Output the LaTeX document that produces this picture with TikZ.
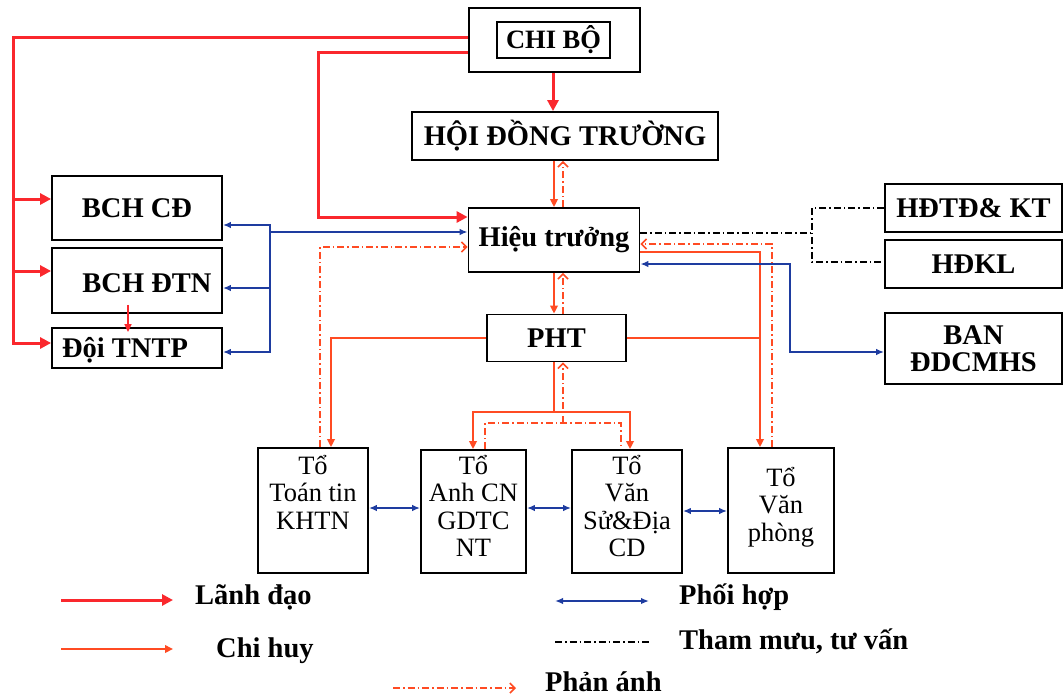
\documentclass[tikz,border=0pt]{standalone}
\usepackage{fontspec}
\setmainfont{Liberation Serif}
\usetikzlibrary{arrows.meta}
\definecolor{ldred}{RGB}{250,40,45}
\definecolor{chred}{RGB}{255,75,35}
\definecolor{pblue}{RGB}{30,60,160}
\newcommand\bfnt{\fontsize{28.5}{27}\selectfont\bfseries}
\newcommand\tfnt{\fontsize{26.5}{27.5}\selectfont}
\tikzset{
  box/.style={draw, line width=1.8pt, inner sep=0pt, font=\bfnt, align=center},
  tbox/.style={draw, line width=1.8pt, inner sep=0pt},
  ttext/.style={font=\tfnt, align=center, inner sep=0pt, anchor=north},
  btext/.style={font=\bfnt, align=center, inner sep=0pt},
  ldl/.style={draw=ldred, line width=3pt},
  ld/.style={ldl, -{Triangle[length=11pt,width=11pt]}},
  chl/.style={draw=chred, line width=2pt},
  ch/.style={chl, -{Triangle[length=8pt,width=7.5pt]}},
  pal/.style={draw=chred, line width=1.6pt, dash pattern=on 7pt off 3pt on 1.5pt off 3pt},
  pa/.style={pal, -{Straight Barb[length=5pt,width=10pt]}},
  phl/.style={draw=pblue, line width=1.6pt},
  pha/.style={phl, -{Latex[length=8pt,width=6.5pt]}},
  ph/.style={phl, {Latex[length=8pt,width=6.5pt]}-{Latex[length=8pt,width=6.5pt]}},
  tm/.style={draw=black, line width=1.4pt, dash pattern=on 7pt off 3pt on 1.5pt off 3pt},
}
\begin{document}
\begin{tikzpicture}[x=1pt,y=-1pt]
\useasboundingbox (0,0) rectangle (1064,698);
\fill[white] (0,0) rectangle (1064,698);

% ---- boxes ----
\node[tbox, minimum width=171pt, minimum height=64pt] (chibo) at (554.5,40) {};
\node[box, minimum width=113pt, minimum height=36pt, font=\fontsize{26.5}{27}\selectfont\bfseries] (chiboin) at (553.5,40) {CHI BỘ};
\node[box, minimum width=306pt, minimum height=48pt] (hdt) at (565,136) {HỘI ĐỒNG TRƯỜNG};
\node[box, minimum width=171pt, minimum height=64pt] (ht) at (554,240) {Hiệu trưởng};
\node[box, minimum width=139pt, minimum height=47pt] (pht) at (556.5,338) {PHT};

\node[box, minimum width=170pt, minimum height=64pt] (bchcd) at (137,208) {BCH CĐ};
\node[tbox, minimum width=170pt, minimum height=65pt] (bchdtn) at (137,280.5) {};
\node[btext] (bchdtnt) at (147,283) {BCH ĐTN};
\node[tbox, minimum width=170pt, minimum height=40pt] (doi) at (137,348) {};
\node[btext] (doit) at (125,350) {Đội TNTP};

\node[box, minimum width=177pt, minimum height=48pt] (hdtd) at (973.5,208) {HĐTĐ\& KT};
\node[box, minimum width=177pt, minimum height=48pt] (hdkl) at (973.5,264) {HĐKL};
\node[box, minimum width=177pt, minimum height=71pt] (ban) at (973.5,348.5) {BAN\\ĐDCMHS};

\node[tbox, minimum width=110pt, minimum height=125pt] (to1) at (313,510.5) {};
\node[tbox, minimum width=105pt, minimum height=123pt] (to2) at (473.5,511.5) {};
\node[tbox, minimum width=110pt, minimum height=123pt] (to3) at (627,511.5) {};
\node[tbox, minimum width=106pt, minimum height=125pt] (to4) at (781,510.5) {};
\node[ttext] (to1t) at (313,455) {Tổ\\Toán tin\\KHTN};
\node[ttext] (to2t) at (473.5,455) {Tổ\\Anh CN\\GDTC\\NT};
\node[ttext] (to3t) at (627,455) {Tổ\\Văn\\Sử\&Địa\\CD};
\node[ttext] (to4t) at (781,467) {Tổ\\Văn\\phòng};

% ---- Lanh dao (red) ----
\coordinate (ra) at (13,199);
\coordinate (rb) at (13,271);
\draw[ld] (chibo.west |- 0,38) -| (13,343) -- (doi.west |- 0,343);
\draw[ld] (ra) -- (bchcd.west |- ra);
\draw[ld] (rb) -- (bchdtn.west |- rb);
\draw[ld] (chibo.west |- 0,53) -| (318,217) -- (ht.west |- 0,217);
\draw[ld] (chibo.south -| 553,0) -- (hdt.north -| 553,0);
\draw[draw=ldred, line width=1.6pt, -{Triangle[length=8pt,width=7pt]}] ([yshift=9pt]bchdtn.south -| 128,0) -- ([yshift=-5pt]doi.north -| 128,0);

% ---- Chi huy / Phan anh ----
\draw[ch] (hdt.south -| 554,0) -- (ht.north -| 554,0);
\draw[pa] (ht.north -| 563,0) -- (hdt.south -| 563,0);
\draw[ch] (ht.south -| 554,0) -- (pht.north -| 554,0);
\draw[pa] (pht.north -| 563,0) -- (ht.south -| 563,0);

\coordinate (pb) at (554,412);
\draw[chl] (pht.south -| pb) -- (pb);
\draw[ch] (pb) -| (to2.north -| 473,0);
\draw[ch] (pb) -| (to3.north -| 630,0);
\coordinate (qb) at (563,423);
\draw[pal] (to2.north -| 485,0) |- (621,423) -- (to3.north -| 621,0);
\draw[pa] (qb) -- (pht.south -| qb);

\draw[ch] (pht.west) -| (to1.north -| 331,0);
\draw[pa] (to1.north -| 320,0) |- (ht.west |- 0,247);
\draw[ch] (ht.east |- 0,252) -| (to4.north -| 760,0);
\draw[chl] (pht.east) -- (760,338);
\draw[pa] (to4.north -| 772,0) |- (ht.east |- 0,244);

% ---- Phoi hop (blue) ----
\coordinate (bv) at (270,225);
\draw[ph] (bchcd.east |- bv) -| (270,232) -- (ht.west |- 0,232);
\draw[pha] (bv) |- (bchdtn.east |- 0,288);
\draw[pha] (bv) |- (doi.east |- 0,352);
\draw[ph] (ht.east |- 0,264) -| (790,352) -- (ban.west |- 0,352);
\draw[ph] (to1.east |- 0,508) -- (to2.west |- 0,508);
\draw[ph] (to2.east |- 0,508) -- (to3.west |- 0,508);
\draw[ph] (to3.east |- 0,511) -- (to4.west |- 0,511);

% ---- Tham muu (black dash-dot) ----
\coordinate (tv) at (812,233);
\draw[tm] (ht.east |- tv) -- (tv);
\draw[tm] (hdtd.west) -| (812,262) -- (hdkl.west |- 0,262);

% ---- legend ----
\coordinate (l1a) at (61,600); \coordinate (l1b) at (173,600);
\draw[ld] (l1a) -- (l1b);
\node[btext, anchor=west] (l1t) at (195,597) {Lãnh đạo};
\coordinate (l2a) at (61,649); \coordinate (l2b) at (173,649);
\draw[ch] (l2a) -- (l2b);
\node[btext, anchor=west] (l2t) at (216,651) {Chi huy};
\coordinate (l3a) at (555,601); \coordinate (l3b) at (649,601);
\draw[ph] (l3a) -- (l3b);
\node[btext, anchor=west] (l3t) at (679,597) {Phối hợp};
\coordinate (l4a) at (555,642); \coordinate (l4b) at (651,642);
\draw[tm] (l4a) -- (l4b);
\node[btext, anchor=west] (l4t) at (679,641) {Tham mưu, tư vấn};
\coordinate (l5a) at (393,688); \coordinate (l5b) at (516,688);
\draw[pa] (l5a) -- (l5b);
\node[btext, anchor=west] (l5t) at (545,682) {Phản ánh};
\end{tikzpicture}
\end{document}
